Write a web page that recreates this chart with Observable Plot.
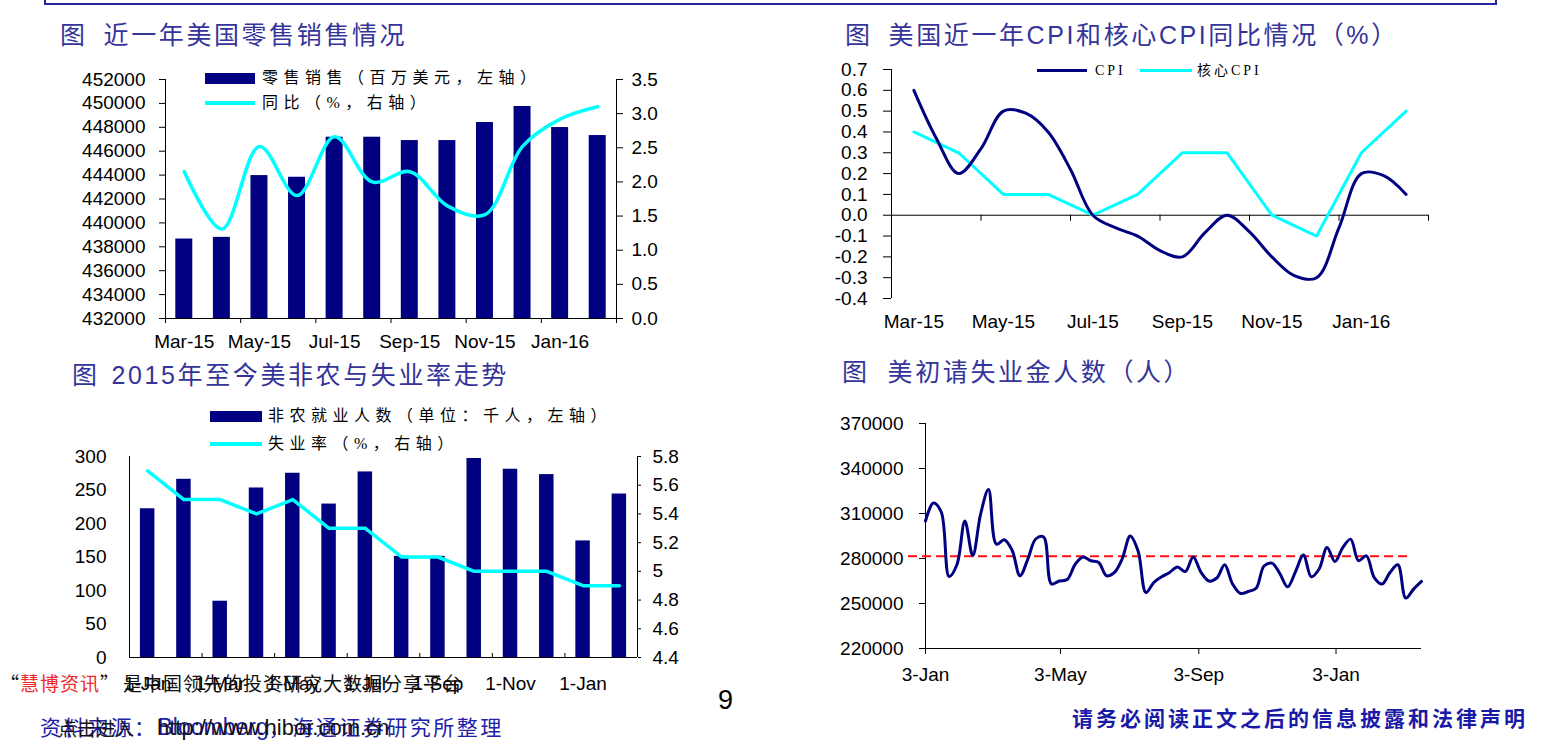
<!DOCTYPE html>
<html><head><meta charset="utf-8">
<script src="https://cdn.jsdelivr.net/npm/d3@7"></script>
<script src="https://cdn.jsdelivr.net/npm/@observablehq/plot@0.6"></script>
<style>
body{margin:0;background:#fff;}
#page{position:relative;width:1560px;height:751px;overflow:hidden;background:#fff;font-family:"Liberation Sans",Arial,"Noto Sans CJK SC",sans-serif;}
.abs{position:absolute;white-space:nowrap;line-height:1;transform:translateY(-50%);}
.title{font-family:"Liberation Sans","Noto Sans CJK SC",sans-serif;font-size:25px;color:#34349a;letter-spacing:2.6px;}
.leg{font-family:"Liberation Serif","Noto Sans CJK SC",serif;font-size:16px;letter-spacing:5.5px;color:#000;}
.sw{position:absolute;}
svg{position:absolute;}
</style></head><body><div id="page">
<div style="position:absolute;left:44px;top:-20px;width:1453px;height:25px;border:2px solid #2424a0;box-sizing:border-box;"></div>

<div class="abs title" style="left:60px;top:35px;">图<span style="margin-left:16px">近一年美国零售销售情况</span></div>
<div class="abs title" style="left:845px;top:35px;">图<span style="margin-left:16px">美国近一年CPI和核心CPI同比情况（%）</span></div>
<div class="abs title" style="left:72px;top:375px;">图<span style="margin-left:12px">2015年至今美非农与失业率走势</span></div>
<div class="abs title" style="left:842px;top:372px;">图<span style="margin-left:18px">美初请失业金人数（人）</span></div>

<div class="sw" style="left:205px;top:73px;width:50px;height:11px;background:#000080"></div>
<div class="abs leg" style="left:262px;top:78px;">零售销售（百万美元，左轴）</div>
<div class="sw" style="left:205px;top:101px;width:50px;height:3.5px;background:#00ffff"></div>
<div class="abs leg" style="left:262px;top:103px;">同比（%，右轴）</div>

<div class="sw" style="left:1037px;top:69px;width:50px;height:3px;background:#000080"></div>
<div class="abs leg" style="left:1095px;top:71px;font-size:14px;letter-spacing:3px;">CPI</div>
<div class="sw" style="left:1140px;top:69px;width:52px;height:3px;background:#00ffff"></div>
<div class="abs leg" style="left:1197px;top:71px;font-size:14px;letter-spacing:3px;">核心CPI</div>

<div class="sw" style="left:210px;top:411px;width:52px;height:11px;background:#000080"></div>
<div class="abs leg" style="left:268px;top:416px;">非农就业人数（单位：千人，左轴）</div>
<div class="sw" style="left:210px;top:442px;width:52px;height:3.5px;background:#00ffff"></div>
<div class="abs leg" style="left:268px;top:444px;">失业率（%，右轴）</div>

<div class="abs" style="left:0px;top:682px;font-family:'Noto Sans CJK SC',sans-serif;font-size:19px;letter-spacing:1px;color:#111;">“<span style="color:#ee2a2a">慧博资讯</span>”<span style="margin-left:3px">是中国领先的投资研究大数据分享平台</span></div>
<div class="abs" style="left:40px;top:727px;font-family:'Noto Sans CJK SC',serif;font-size:21px;letter-spacing:2.5px;color:#2020a8;">资料来源：<span style="font-family:'Liberation Sans',Arial;font-size:23px;letter-spacing:0">Bloomberg</span>，海通证券研究所整理</div>
<div class="abs" style="left:58px;top:727px;font-family:'Noto Sans CJK SC',sans-serif;font-size:19px;color:#111;">点击进入</div>
<div class="abs" style="left:157px;top:728px;font-family:'Liberation Sans',Arial;font-size:22px;color:#111;">http://www.hibor.com.cn</div>
<div class="abs" style="left:718px;top:700px;font-family:'Liberation Sans',Arial;font-size:27px;color:#000;">9</div>
<div class="abs" style="left:1072px;top:717px;font-family:'Noto Sans CJK SC',sans-serif;font-weight:bold;font-size:21px;letter-spacing:3px;color:#1a1aa8;">请务必阅读正文之后的信息披露和法律声明</div>
</div>
<script>
// ---------- data ----------
const retailMonths = ["Mar-15","Apr-15","May-15","Jun-15","Jul-15","Aug-15","Sep-15","Oct-15","Nov-15","Dec-15","Jan-16","Feb-16"];
const retailSales = [438650, 438790, 443960, 443820, 447170, 447170, 446890, 446890, 448400, 449740, 447980, 447310];
const retailYoY = [2.15, 1.31, 2.52, 1.80, 2.66, 2.00, 2.15, 1.65, 1.52, 2.52, 2.92, 3.10];
const retailLabels = ["Mar-15","May-15","Jul-15","Sep-15","Nov-15","Jan-16"];

const cpiMonths = ["Mar-15","Apr-15","May-15","Jun-15","Jul-15","Aug-15","Sep-15","Oct-15","Nov-15","Dec-15","Jan-16","Feb-16"];
const cpiHalfMonthly = [0.60, 0.37, 0.20, 0.32, 0.50, 0.49, 0.40, 0.22, 0.00, -0.06, -0.10, -0.17, -0.20, -0.085, 0.00, -0.08, -0.20, -0.29, -0.30, -0.06, 0.20, 0.19, 0.10];
const coreCpi = [0.4, 0.3, 0.1, 0.1, 0.0, 0.1, 0.3, 0.3, 0.0, -0.1, 0.3, 0.5];
const cpiLabels = ["Mar-15","May-15","Jul-15","Sep-15","Nov-15","Jan-16"];

const nfpMonths = ["Jan-15","Feb-15","Mar-15","Apr-15","May-15","Jun-15","Jul-15","Aug-15","Sep-15","Oct-15","Nov-15","Dec-15","Jan-16","Feb-16"];
const nfpValues = [222, 266, 84, 253, 275, 229, 277, 151, 151, 297, 281, 273, 174, 244];
const unemployment = [5.7, 5.5, 5.5, 5.4, 5.5, 5.3, 5.3, 5.1, 5.1, 5.0, 5.0, 5.0, 4.9, 4.9];
const nfpLabels = ["1-Jan","1-Mar","1-May","1-Jul","1-Sep","1-Nov","1-Jan"];

const claimsStart = "2015-01-03";
const claimsEnd = "2016-03-19";
const claimsWeekly = [305000, 317000, 311000, 268000, 276000, 305000, 282000, 309600, 326000, 289600,
  292500, 285500, 268500, 279600, 293000, 294400, 263000, 265000, 266000, 276000,
  281000, 278500, 277300, 268500, 270700, 280000, 295000, 285000, 257300, 264000,
  267800, 270700, 274400, 271300, 281000, 270700, 265000, 267000, 275800, 263000,
  256700, 258000, 260200, 275000, 276900, 270000, 261100, 271300, 282400, 267800,
  273000, 287300, 278000, 287300, 292900, 278500, 281800, 267300, 263000, 270700,
  275800, 253600, 259600, 264700];
const claimsReference = [281500];
const claimsTicks = ["2015-01-03","2015-05-03","2015-09-03","2016-01-03"];

// ---------- styles ----------
const navy = "#000080", cyan = "#00ffff";
const baseStyle = {fontFamily: "'Liberation Sans', Arial, sans-serif", fontSize: "19px", color: "#000", background: "transparent", overflow: "visible"};
const page = document.getElementById("page");
const firstText = page.querySelector(".abs");
function place(svg, left, top) { svg.style.left = left + "px"; svg.style.top = top + "px"; page.insertBefore(svg, firstText); }

// ---------- panel 1 : retail sales ----------
{
  const base = 432000, top = 452000, rMax = 3.5;
  const toLeft = v => base + v * (top - base) / rMax;
  const data = retailMonths.map((m, i) => ({i, m, sales: retailSales[i], yoy: retailYoY[i]}));
  const svg = Plot.plot({
    width: 620, height: 310, marginLeft: 105, marginRight: 64, marginTop: 24, marginBottom: 47,
    style: baseStyle,
    x: {type: "linear", domain: [0, retailMonths.length], axis: null},
    y: {domain: [base, top], axis: null},
    marks: [
      Plot.rect(data, {x1: d => d.i, x2: d => d.i + 1, y1: base, y2: "sales", fill: navy, insetLeft: 10.3, insetRight: 10.3}),
      Plot.line(data, {x: d => d.i + 0.5, y: d => toLeft(d.yoy), stroke: cyan, strokeWidth: 3.5, curve: "catmull-rom"}),
      Plot.ruleX([0, retailMonths.length], {stroke: "#000"}),
      Plot.ruleY([base], {stroke: "#000"}),
      Plot.axisY({anchor: "left", ticks: d3.range(base, top + 1, 2000), tickSize: 6, tickPadding: 14, label: null, tickFormat: d3.format("d")}),
      Plot.axisY({anchor: "right", ticks: d3.range(0, 8).map(k => toLeft(k * 0.5)), tickSize: 6, tickPadding: 9, label: null,
        tickFormat: d => ((d - base) * rMax / (top - base)).toFixed(1)}),
      Plot.axisX({anchor: "bottom", ticks: d3.range(0, retailMonths.length + 1, 2), tickSize: 5, tickFormat: () => "", label: null}),
      Plot.axisX({anchor: "bottom", ticks: retailLabels.map(l => retailMonths.indexOf(l) + 0.5), tickSize: 0, tickPadding: 16, label: null,
        tickFormat: t => retailMonths[Math.floor(t)]})
    ]
  });
  place(svg, 60, 55);
}

// ---------- panel 2 : CPI ----------
{
  const half = cpiHalfMonthly.map((v, k) => ({x: 0.5 + k * 0.5, v}));
  const core = coreCpi.map((v, i) => ({x: i + 0.5, v}));
  const svg = Plot.plot({
    width: 660, height: 295, marginLeft: 91, marginRight: 32, marginTop: 19, marginBottom: 47,
    style: baseStyle,
    x: {type: "linear", domain: [0, cpiMonths.length], axis: null},
    y: {domain: [-0.4, 0.7], axis: null},
    marks: [
      Plot.ruleX([0], {stroke: "#000"}),
      Plot.ruleY([0], {stroke: "#000"}),
      Plot.ruleX(d3.range(0, cpiMonths.length + 1, 2), {y1: 0, y2: 0, insetBottom: -6, stroke: "#000"}),
      Plot.line(core, {x: "x", y: "v", stroke: cyan, strokeWidth: 3}),
      Plot.line(half, {x: "x", y: "v", stroke: navy, strokeWidth: 3, curve: "catmull-rom"}),
      Plot.axisY({anchor: "left", ticks: d3.range(-4, 8).map(k => k / 10), tickSize: 8, tickPadding: 16, label: null, tickFormat: d => d.toFixed(1)}),
      Plot.axisX({anchor: "bottom", ticks: cpiLabels.map(l => cpiMonths.indexOf(l) + 0.5), tickSize: 0, tickPadding: 16, label: null,
        tickFormat: t => cpiMonths[Math.floor(t)]})
    ]
  });
  place(svg, 800, 50);
}

// ---------- panel 3 : NFP & unemployment ----------
{
  const uMin = 4.4, uMax = 5.8, yMax = 300;
  const toLeft = u => (u - uMin) / (uMax - uMin) * yMax;
  const data = nfpMonths.map((m, i) => ({i, m, nfp: nfpValues[i], u: unemployment[i]}));
  const svg = Plot.plot({
    width: 680, height: 275, marginLeft: 109, marginRight: 63, marginTop: 21, marginBottom: 53,
    style: baseStyle,
    x: {type: "linear", domain: [0, nfpMonths.length], axis: null},
    y: {domain: [0, yMax], axis: null},
    marks: [
      Plot.rect(data, {x1: d => d.i, x2: d => d.i + 1, y1: 0, y2: "nfp", fill: navy, insetLeft: 10.9, insetRight: 10.9}),
      Plot.line(data, {x: d => d.i + 0.5, y: d => toLeft(d.u), stroke: cyan, strokeWidth: 3.5}),
      Plot.ruleX([0, nfpMonths.length], {stroke: "#000"}),
      Plot.ruleY([0], {stroke: "#000"}),
      Plot.ruleX(d3.range(0, nfpMonths.length + 1, 2), {y1: 0, y2: 0, insetTop: -4, stroke: "#000"}),
      Plot.axisY({anchor: "left", ticks: d3.range(0, yMax + 1, 50), tickSize: 0, tickPadding: 23, label: null, tickFormat: d3.format("d")}),
      Plot.axisY({anchor: "right", ticks: d3.range(0, 8).map(k => toLeft(uMin + k * 0.2)), tickSize: 3, tickPadding: 12, label: null,
        tickFormat: d => String(+(uMin + d / yMax * (uMax - uMin)).toFixed(1))}),
      Plot.axisX({anchor: "bottom", ticks: nfpLabels.map((l, k) => 2 * k + 0.5), tickSize: 0, tickPadding: 19, label: null,
        tickFormat: t => nfpLabels[Math.floor(t / 2)]})
    ]
  });
  place(svg, 20, 435);
}

// ---------- panel 4 : initial claims ----------
{
  const start = new Date(claimsStart + "T00:00:00Z");
  const end = new Date(claimsEnd + "T00:00:00Z");
  const data = claimsWeekly.map((v, i) => ({date: d3.utcDay.offset(start, 7 * i), v}));
  const yLo = 220000, yHi = 370000;
  const svg = Plot.plot({
    width: 640, height: 300, marginLeft: 105, marginRight: 39, marginTop: 23, marginBottom: 52,
    style: baseStyle,
    x: {type: "utc", domain: [start, end], axis: null},
    y: {domain: [yLo, yHi], axis: null},
    marks: [
      Plot.ruleX([start], {stroke: "#000"}),
      Plot.ruleY([yLo], {stroke: "#000"}),
      Plot.ruleY(claimsReference, {stroke: "#ff1010", strokeWidth: 2, strokeDasharray: "9,5", insetLeft: -17, insetRight: 14}),
      Plot.line(data, {x: "date", y: "v", stroke: navy, strokeWidth: 3, curve: "catmull-rom"}),
      Plot.axisY({anchor: "left", ticks: d3.range(yLo, yHi + 1, 30000), tickSize: 6, tickPadding: 16, label: null, tickFormat: d3.format("d")}),
      Plot.axisX({anchor: "bottom", ticks: claimsTicks.map(d => new Date(d + "T00:00:00Z")), tickSize: 6, tickPadding: 13, label: null,
        tickFormat: d3.utcFormat("%-d-%b")})
    ]
  });
  place(svg, 820, 400);
}
</script>
</body></html>
